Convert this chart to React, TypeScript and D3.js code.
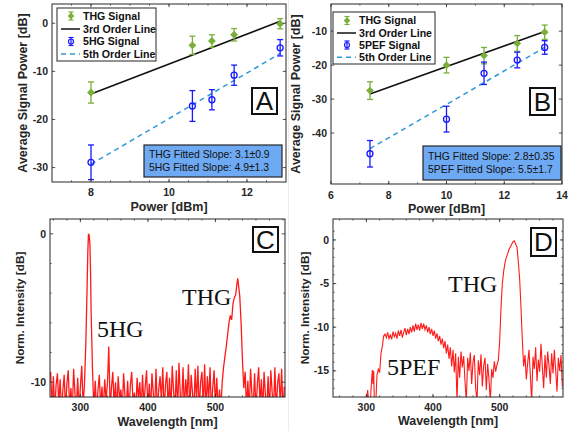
import * as d3 from "d3";

// ---- panel A : THG / 5HG power dependence
const powerA = [8, 10.6, 11.1, 11.67, 12.85];
const thgSignalA = [-14.4, -4.6, -3.7, -2.4, -0.1];
const thgErrA = [2.2, 1.9, 1.3, 1.3, 1.05];
const hgSignalA = [-28.9, -17.2, -15.9, -10.8, -5.1];
const hgErrA = [3.6, 3.2, 2.1, 2.1, 1.7];
const thirdLineA: [number, number][] = [[8, -14.7], [12.85, 0.4]];
const fifthLineA: [number, number][] = [[8, -29.3], [12.85, -6.3]];
const xTicksA = [8, 10, 12];
const yTicksA = [0, -10, -20, -30];
const legendA = ["THG Signal", "3rd Order Line", "5HG Signal", "5th Order Line"];
const slopesA = ["THG Fitted Slope: 3.1\u00b10.9", "5HG Fitted Slope: 4.9\u00b11.3"];

// ---- panel B : THG / 5PEF power dependence
const powerB = [7.35, 10, 11.3, 12.45, 13.4];
const thgSignalB = [-27.5, -20, -17.2, -13.6, -10.3];
const thgErrB = [2.6, 2.3, 2.4, 2.3, 2.1];
const pefSignalB = [-46.1, -35.9, -22.4, -18.5, -14.8];
const pefErrB = [3.9, 3.8, 3.3, 2.3, 2.0];
const thirdLineB: [number, number][] = [[7.35, -28.5], [13.4, -10.1]];
const fifthLineB: [number, number][] = [[7.35, -44.6], [13.4, -14.8]];
const xTicksB = [6, 8, 10, 12, 14];
const yTicksB = [-10, -20, -30, -40];
const legendB = ["THG Signal", "3rd Order Line", "5PEF Signal", "5th Order Line"];
const slopesB = ["THG Fitted Slope: 2.8\u00b10.35", "5PEF Fitted Slope: 5.5\u00b11.7"];

// ---- panel C : spectrum with 5HG and THG  [nm, dB]
const spectrumC: [number, number][] = [
  [256, -9.3], [258, -11.8], [260, -9.6], [262, -12], [264, -10.2], [266, -9.4], [268, -11.5], [270, -9.8],
  [272, -12], [274, -10.6], [276, -9.5], [278, -11.9], [280, -10.1], [282, -9.2], [284, -11.7], [286, -10.4],
  [288, -12], [290, -9.1], [292, -10.8], [294, -11.9], [296, -9.7], [298, -12], [300, -10.3], [302, -8.9],
  [304, -11.6], [306, -10.2], [308, -7.5], [310, -3.5], [311, -1.2], [312, 0], [313, -0.1], [314, -0.6],
  [315, -2.5], [316, -5.5], [318, -9.3], [320, -11.8], [322, -9.9], [324, -12], [326, -10.6], [328, -9.5],
  [330, -11.7], [332, -10.3], [334, -12], [336, -9.8], [338, -11.2], [340, -10.1], [341, -9.0], [342, -7.6],
  [343, -9.5], [344, -11.9], [346, -10.4], [348, -9.3], [350, -11.6], [352, -10.0], [354, -12], [356, -9.6],
  [358, -11.1], [360, -10.5], [362, -12], [364, -9.4], [366, -10.9], [368, -11.8], [370, -9.9], [372, -12],
  [374, -10.2], [376, -9.3], [378, -11.4], [380, -10.7], [382, -12], [384, -9.7], [386, -11.2], [388, -10.0],
  [390, -12], [392, -9.5], [394, -11.6], [396, -10.3], [398, -9.2], [400, -11.9], [402, -10.1], [404, -12],
  [406, -9.4], [408, -10.8], [410, -11.7], [412, -9.1], [414, -12], [416, -10.5], [418, -9.6], [420, -11.3],
  [422, -9.0], [424, -12], [426, -10.2], [428, -9.3], [430, -11.8], [432, -9.7], [434, -12], [436, -8.9],
  [438, -10.6], [440, -11.9], [442, -9.2], [444, -12], [446, -8.7], [448, -10.9], [450, -11.5], [452, -9.0],
  [454, -12], [456, -9.8], [458, -11.1], [460, -8.8], [462, -12], [464, -9.5], [466, -10.7], [468, -12],
  [470, -9.1], [472, -11.4], [474, -8.9], [476, -12], [478, -10.0], [480, -9.3], [482, -11.8], [484, -8.8],
  [486, -12], [488, -9.6], [490, -11.2], [492, -9.0], [494, -12], [496, -10.4], [498, -9.2], [500, -11.6],
  [502, -9.7], [504, -12], [506, -10.5], [508, -11.8], [510, -10.0], [512, -9.0], [514, -8.3], [516, -7.6],
  [518, -6.8], [520, -6.0], [522, -5.5], [524, -5.8], [526, -4.7], [528, -4.3], [530, -4.1], [532, -3.3],
  [533, -3.0], [534, -3.4], [536, -4.2], [538, -6.0], [540, -8.5], [542, -10.4], [544, -9.3], [546, -11.8],
  [548, -9.9], [550, -12], [552, -9.1], [554, -10.8], [556, -11.7], [558, -9.4], [560, -12], [562, -10.2],
  [564, -9.0], [566, -11.5], [568, -9.8], [570, -12], [572, -9.3], [574, -10.9], [576, -11.8], [578, -9.6],
  [580, -12], [582, -9.2], [584, -10.7], [586, -11.9], [588, -9.0], [590, -12], [592, -10.1], [594, -9.4],
  [596, -11.6], [598, -9.1], [600, -12], [602, -10.3],
];
const xTicksC = [300, 400, 500];
const yTicksC = [0, -10];

// ---- panel D : spectrum with 5PEF and THG  [nm, dB]
const spectrumD: [number, number][] = [
  [300, -19], [302, -17.2], [304, -19], [306, -18.5], [308, -16.0], [309, -14.9], [310, -16.5], [311, -15.0],
  [312, -18.5], [314, -19], [316, -15.5], [318, -14.8], [320, -15.2], [322, -13.0], [324, -12.2], [326, -11.0],
  [328, -10.8], [330, -11.2], [332, -10.6], [334, -11.3], [336, -10.9], [338, -11.4], [340, -10.5], [342, -11.1],
  [344, -10.7], [346, -11.3], [348, -10.4], [350, -11.0], [352, -10.3], [354, -11.2], [356, -10.6], [358, -10.1],
  [360, -10.9], [362, -10.2], [364, -10.8], [366, -10.0], [368, -10.6], [370, -9.8], [372, -10.5], [374, -9.6],
  [376, -10.3], [378, -9.7], [380, -10.4], [382, -9.5], [384, -10.2], [386, -9.6], [388, -10.3], [390, -9.8],
  [392, -10.6], [394, -10.0], [396, -10.8], [398, -10.2], [400, -11.0], [402, -10.4], [404, -11.3], [406, -10.7],
  [408, -11.6], [410, -11.0], [412, -12.0], [414, -11.3], [416, -12.4], [418, -11.6], [420, -13.0], [422, -12.0],
  [424, -13.6], [426, -12.3], [428, -14.5], [430, -12.6], [432, -15.2], [434, -13.0], [436, -18.5], [438, -13.4],
  [440, -15.8], [442, -12.8], [444, -14.6], [446, -13.3], [448, -16.2], [450, -18.5], [452, -13.5], [454, -15.0],
  [456, -12.9], [458, -16.5], [460, -14.0], [462, -13.2], [464, -17.0], [466, -18.5], [468, -13.8], [470, -15.5],
  [472, -13.1], [474, -16.8], [476, -14.4], [478, -13.5], [480, -17.2], [482, -14.2], [484, -16.0], [486, -18.5],
  [488, -14.8], [490, -15.8], [492, -13.9], [494, -15.1], [496, -14.3], [498, -13.8], [500, -11.6], [502, -7.8],
  [504, -5.0], [506, -3.6], [508, -2.6], [510, -2.0], [512, -1.6], [514, -1.1], [516, -0.8], [518, -0.5],
  [520, -0.2], [522, -0.1], [524, -0.5], [526, -0.8], [528, -2.5], [530, -4.5], [532, -7.8], [534, -11.5],
  [536, -14.5], [538, -13.2], [540, -16.0], [542, -14.1], [544, -12.6], [546, -15.5], [548, -18.5], [550, -13.4],
  [552, -14.8], [554, -12.3], [556, -16.2], [558, -13.7], [560, -15.1], [562, -11.9], [564, -14.6], [566, -17.0],
  [568, -13.2], [570, -15.8], [572, -12.8], [574, -14.4], [576, -16.5], [578, -13.0], [580, -15.3], [582, -12.6],
  [584, -14.9], [586, -17.4], [588, -13.5], [590, -15.0], [592, -13.2], [594, -16.8],
];
const xTicksD = [300, 400, 500];
const yTicksD = [0, -5, -10, -15];

const sans = "'Liberation Sans', Arial, sans-serif";
const serif = "'Liberation Serif', 'Times New Roman', serif";
const axisGray = "#262626";
const green = "#7aae3a";
const blue = "#1a1aff";
const dashBlue = "#2e98d8";

type Box = { x0: number; x1: number; y0: number; y1: number };

function Axes({ box, x, y, xTicks, yTicks, xMinor, yMinor, xLabel, yLabel, tickBase, labelBase, yLabelX, clip }: any) {
  const b: Box = box;
  return (
    <g fontFamily={sans} fill={axisGray}>
      <rect x={b.x0} y={b.y0} width={b.x1 - b.x0} height={b.y1 - b.y0} fill="none" stroke={axisGray} strokeWidth={1} />
      {xMinor.map((t: number) => (
        <g key={"xm" + t} stroke={axisGray} strokeWidth={0.6}>
          <line x1={x(t)} x2={x(t)} y1={b.y1} y2={b.y1 - 1.8} />
          <line x1={x(t)} x2={x(t)} y1={b.y0} y2={b.y0 + 1.8} />
        </g>
      ))}
      {yMinor.map((t: number) => (
        <g key={"ym" + t} stroke={axisGray} strokeWidth={0.6}>
          <line x1={b.x0} x2={b.x0 + 1.8} y1={y(t)} y2={y(t)} />
          <line x1={b.x1} x2={b.x1 - 1.8} y1={y(t)} y2={y(t)} />
        </g>
      ))}
      {xTicks.map((t: number) => (
        <g key={"x" + t}>
          <line x1={x(t)} x2={x(t)} y1={b.y1} y2={b.y1 - 3.2} stroke={axisGray} strokeWidth={0.8} />
          <line x1={x(t)} x2={x(t)} y1={b.y0} y2={b.y0 + 3.2} stroke={axisGray} strokeWidth={0.8} />
          <text x={x(t)} y={tickBase} textAnchor="middle" fontSize={10.5} fontWeight="bold">{t}</text>
        </g>
      ))}
      {yTicks.map((t: number) => (
        <g key={"y" + t}>
          <line x1={b.x0} x2={b.x0 + 3.2} y1={y(t)} y2={y(t)} stroke={axisGray} strokeWidth={0.8} />
          <line x1={b.x1} x2={b.x1 - 3.2} y1={y(t)} y2={y(t)} stroke={axisGray} strokeWidth={0.8} />
          <text x={b.x0 - 4} y={y(t)} dy="0.35em" textAnchor="end" fontSize={10.5} fontWeight="bold">{t}</text>
        </g>
      ))}
      <text x={(b.x0 + b.x1) / 2} y={labelBase} textAnchor="middle" fontSize={12.5} fontWeight="bold">{xLabel}</text>
      <text transform={`translate(${yLabelX},${(b.y0 + b.y1) / 2}) rotate(-90)`} textAnchor="middle" dy="0.35em" fontSize={clip ? 11.8 : 12.5} fontWeight="bold">{yLabel}</text>
    </g>
  );
}

function Letter({ x0, y0, w, h, t }: { x0: number; y0: number; w: number; h: number; t: string }) {
  return (
    <g>
      <rect x={x0} y={y0} width={w} height={h} fill="white" stroke="#111" strokeWidth={2} />
      <text x={x0 + w / 2} y={y0 + h / 2} dy="0.36em" textAnchor="middle" fontFamily={sans} fontSize={26} fill="#111">{t}</text>
    </g>
  );
}

function ErrBars({ x, y, xs, ys, es, color, marker }: any) {
  return (
    <g stroke={color} strokeWidth={1.3}>
      {xs.map((xv: number, i: number) => {
        const cx = x(xv);
        const top = y(ys[i] + es[i]);
        const bot = y(ys[i] - es[i]);
        const cy = y(ys[i]);
        return (
          <g key={i}>
            <line x1={cx} x2={cx} y1={top} y2={bot} />
            <line x1={cx - 3} x2={cx + 3} y1={top} y2={top} />
            <line x1={cx - 3} x2={cx + 3} y1={bot} y2={bot} />
            {marker === "diamond" ? (
              <path d={`M${cx},${cy - 3}L${cx + 3},${cy}L${cx},${cy + 3}L${cx - 3},${cy}Z`} fill={color} />
            ) : (
              <circle cx={cx} cy={cy} r={3} fill="none" />
            )}
          </g>
        );
      })}
    </g>
  );
}

function Legend({ x0, y0, w, h, rows, labels }: any) {
  const mx = x0 + 14;
  return (
    <g fontFamily={sans} fontSize={10.6} fontWeight="bold" fill="#111">
      <rect x={x0} y={y0} width={w} height={h} fill="white" stroke={axisGray} strokeWidth={1} />
      <g stroke={green} strokeWidth={1.2}>
        <line x1={mx} x2={mx} y1={rows[0] - 4} y2={rows[0] + 4} />
        <line x1={mx - 2.5} x2={mx + 2.5} y1={rows[0] - 4} y2={rows[0] - 4} />
        <line x1={mx - 2.5} x2={mx + 2.5} y1={rows[0] + 4} y2={rows[0] + 4} />
        <path d={`M${mx},${rows[0] - 2.5}L${mx + 2.5},${rows[0]}L${mx},${rows[0] + 2.5}L${mx - 2.5},${rows[0]}Z`} fill={green} />
      </g>
      <line x1={x0 + 4} x2={x0 + 23} y1={rows[1]} y2={rows[1]} stroke="#111" strokeWidth={1.5} />
      <g stroke={blue} strokeWidth={1.2}>
        <line x1={mx} x2={mx} y1={rows[2] - 4} y2={rows[2] + 4} />
        <line x1={mx - 2.5} x2={mx + 2.5} y1={rows[2] - 4} y2={rows[2] - 4} />
        <line x1={mx - 2.5} x2={mx + 2.5} y1={rows[2] + 4} y2={rows[2] + 4} />
        <circle cx={mx} cy={rows[2]} r={2.5} fill="none" />
      </g>
      <line x1={x0 + 4} x2={x0 + 23} y1={rows[3]} y2={rows[3]} stroke={dashBlue} strokeWidth={1.5} strokeDasharray="5 4" />
      {labels.map((l: string, i: number) => (
        <text key={l} x={x0 + 26} y={rows[i]} dy="0.35em">{l}</text>
      ))}
    </g>
  );
}

function SlopeBox({ x0, y0, w, h, lines }: any) {
  return (
    <g fontFamily={sans} fontSize={10.4} fill="#111">
      <rect x={x0} y={y0} width={w} height={h} fill="#6eaaf3" stroke={axisGray} strokeWidth={1.2} />
      <text x={x0 + 5} y={y0 + h * 0.3} dy="0.35em">{lines[0]}</text>
      <text x={x0 + 5} y={y0 + h * 0.7} dy="0.35em">{lines[1]}</text>
    </g>
  );
}

export default function App() {
  const boxA: Box = { x0: 52, x1: 286, y0: 4, y1: 182 };
  const boxB: Box = { x0: 331, x1: 562, y0: 4, y1: 184 };
  const boxC: Box = { x0: 50, x1: 285, y0: 219, y1: 397 };
  const boxD: Box = { x0: 333, x1: 563, y0: 219, y1: 397 };

  const xA = d3.scaleLinear().domain([7, 13]).range([boxA.x0, boxA.x1]);
  const yA = d3.scaleLinear().domain([-33, 4]).range([boxA.y1, boxA.y0]);
  const xB = d3.scaleLinear().domain([6, 14]).range([boxB.x0, boxB.x1]);
  const yB = d3.scaleLinear().domain([-55, -2]).range([boxB.y1, boxB.y0]);
  const xC = d3.scaleLinear().domain([255, 603]).range([boxC.x0, boxC.x1]);
  const yC = d3.scaleLinear().domain([-11, 1]).range([boxC.y1, boxC.y0]);
  const xD = d3.scaleLinear().domain([250, 595]).range([boxD.x0, boxD.x1]);
  const yD = d3.scaleLinear().domain([-18, 2.4]).range([boxD.y1, boxD.y0]);

  const lineA = d3.line<[number, number]>().x((d) => xA(d[0])).y((d) => yA(d[1]));
  const lineB = d3.line<[number, number]>().x((d) => xB(d[0])).y((d) => yB(d[1]));
  const lineC = d3.line<[number, number]>().x((d) => xC(d[0])).y((d) => yC(d[1]));
  const lineD = d3.line<[number, number]>().x((d) => xD(d[0])).y((d) => yD(d[1]));

  return (
    <svg width={571} height={431} style={{ position: "absolute", left: 0, top: 0, background: "white" }}>
      <defs>
        {[["cA", boxA], ["cB", boxB], ["cC", boxC], ["cD", boxD]].map(([id, b]: any) => (
          <clipPath id={id} key={id}>
            <rect x={b.x0} y={b.y0} width={b.x1 - b.x0} height={b.y1 - b.y0} />
          </clipPath>
        ))}
      </defs>
      <line x1={288.5} x2={288.5} y1={0} y2={431} stroke="#ececec" strokeWidth={1} />

      {/* A */}
      <g clipPath="url(#cA)">
        <path d={lineA(thirdLineA) ?? ""} stroke="#111" strokeWidth={1.5} fill="none" />
        <path d={lineA(fifthLineA) ?? ""} stroke={dashBlue} strokeWidth={1.5} strokeDasharray="5 4" fill="none" />
        <ErrBars x={xA} y={yA} xs={powerA} ys={thgSignalA} es={thgErrA} color={green} marker="diamond" />
        <ErrBars x={xA} y={yA} xs={powerA} ys={hgSignalA} es={hgErrA} color={blue} marker="circle" />
      </g>
      <Axes box={boxA} x={xA} y={yA} xTicks={xTicksA} yTicks={yTicksA}
        xMinor={d3.range(7.5, 13, 0.5)} yMinor={[]} xLabel="Power [dBm]" yLabel="Average Signal Power [dB]"
        tickBase={196} labelBase={211} yLabelX={23} />
      <Legend x0={57} y0={8} w={99} h={53} rows={[16, 29, 41.5, 54]} labels={legendA} />
      <SlopeBox x0={144} y0={145} w={138} h={32} lines={slopesA} />
      <Letter x0={252} y0={88} w={25} h={26} t="A" />

      {/* B */}
      <g clipPath="url(#cB)">
        <path d={lineB(thirdLineB) ?? ""} stroke="#111" strokeWidth={1.5} fill="none" />
        <path d={lineB(fifthLineB) ?? ""} stroke={dashBlue} strokeWidth={1.5} strokeDasharray="5 4" fill="none" />
        <ErrBars x={xB} y={yB} xs={powerB} ys={thgSignalB} es={thgErrB} color={green} marker="diamond" />
        <ErrBars x={xB} y={yB} xs={powerB} ys={pefSignalB} es={pefErrB} color={blue} marker="circle" />
      </g>
      <Axes box={boxB} x={xB} y={yB} xTicks={xTicksB} yTicks={yTicksB}
        xMinor={d3.range(7, 14, 1)} yMinor={[]} xLabel="Power [dBm]" yLabel="Average Signal Power [dB]"
        tickBase={199} labelBase={213} yLabelX={296} />
      <Legend x0={333} y0={12} w={102} h={52} rows={[20.5, 33, 45, 57.3]} labels={legendB} />
      <SlopeBox x0={423} y0={146} w={138} h={34} lines={slopesB} />
      <Letter x0={530} y0={88} w={25} h={27} t="B" />

      {/* C */}
      <g clipPath="url(#cC)">
        <path d={lineC(spectrumC) ?? ""} stroke="#ff1a1a" strokeWidth={1.3} fill="none" />
      </g>
      <Axes box={boxC} x={xC} y={yC} xTicks={xTicksC} yTicks={yTicksC}
        xMinor={d3.range(260, 603, 20)} yMinor={[-8, -6, -4, -2]} xLabel="Wavelength [nm]" yLabel="Norm. Intensity [dB]"
        tickBase={411} labelBase={426} yLabelX={20} clip />
      <text x={97} y={337} fontFamily={serif} fontSize={24} fill="#111">5HG</text>
      <text x={182} y={305} fontFamily={serif} fontSize={24} fill="#111">THG</text>
      <Letter x0={253} y0={227} w={25} h={25} t="C" />

      {/* D */}
      <g clipPath="url(#cD)">
        <path d={lineD(spectrumD) ?? ""} stroke="#ff1a1a" strokeWidth={1.1} fill="none" />
      </g>
      <Axes box={boxD} x={xD} y={yD} xTicks={xTicksD} yTicks={yTicksD}
        xMinor={d3.range(260, 595, 20)} yMinor={d3.range(-17, 2, 1)} xLabel="Wavelength [nm]" yLabel="Norm. Intensity [dB]"
        tickBase={411} labelBase={425} yLabelX={305} clip />
      <text x={448} y={292} fontFamily={serif} fontSize={24} fill="#111">THG</text>
      <text x={387} y={375} fontFamily={serif} fontSize={24} fill="#111">5PEF</text>
      <Letter x0={531} y0={228} w={25} h={28} t="D" />
    </svg>
  );
}
